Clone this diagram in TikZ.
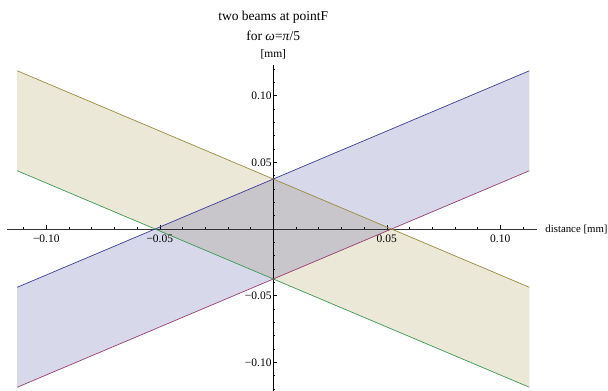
\documentclass[tikz,border=0pt]{standalone}
\usepackage{fontspec}
\setmainfont{Liberation Serif}
\definecolor{cBl}{rgb}{0.24,0.24,0.6}
\definecolor{cMg}{rgb}{0.6,0.24,0.4428}
\definecolor{cOl}{rgb}{0.6,0.547,0.24}
\definecolor{cGr}{rgb}{0.24,0.6,0.33}
\tikzset{
  beam/.style={line width=.7pt},
  band/.style={fill opacity=.2},
  axisline/.style={line width=.8pt,black!80},
  tickmark/.style={line width=.5pt,black},
  ticklab/.style={font=\fontsize{11.5}{13}\selectfont,inner sep=0pt},
  titlelab/.style={font=\fontsize{13.5}{16}\selectfont,inner sep=0pt},
}

\begin{document}
\begin{tikzpicture}[x=2270pt,y=1333pt]
  \useasboundingbox (-0.120396,-0.12078) rectangle (0.147445,0.171793);
  \clip (-0.120396,-0.12078) rectangle (0.147445,0.171793);
  \coordinate (bl) at (-0.1128,-0.0437); \coordinate (br) at (0.1128,0.1187);
  \coordinate (ml) at (-0.1128,-0.1187); \coordinate (mr) at (0.1128,0.0437);
  \coordinate (ol) at (-0.1128,0.1187);  \coordinate (or) at (0.1128,-0.0437);
  \coordinate (gl) at (-0.1128,0.0437);  \coordinate (gr) at (0.1128,-0.1187);
  \fill[cOl,band] (ol) -- (or) -- (gr) -- (gl) -- cycle;
  \fill[cBl,band] (bl) -- (br) -- (mr) -- (ml) -- cycle;
  \coordinate (xa) at (-0.1173,0); \coordinate (xb) at (0.1163,0);
  \coordinate (ya) at (0,-0.13);   \coordinate (yb) at (0,0.123);
  \draw[axisline] (xa) -- (xb);
  \draw[axisline,black] (ya) -- (yb);
  \foreach \i in {-11,...,-1,1,2,...,11}{\draw[tickmark] (\i/100,0) -- ++(0,2pt);}
  \foreach \i in {-12,...,-1,1,2,...,12}{\draw[tickmark] (0,\i/100) -- ++(2pt,0);}
  \foreach \i/\t in {-10/−0.10,-5/−0.05,5/0.05,10/0.10}{
    \draw[tickmark] (\i/100,0) -- ++(0,4pt);
    \node[ticklab,anchor=base] (xt\i) at (\i/100,-0.0098) {\t};
    \draw[tickmark] (0,\i/100) -- ++(4pt,0);
    \node[ticklab,anchor=east,xshift=-1.5pt] (yt\i) at (0,\i/100) {\t};
  }
  \draw[cBl,beam] (bl) -- (br);
  \draw[cMg,beam] (ml) -- (mr);
  \draw[cOl,beam] (ol) -- (or);
  \draw[cGr,beam] (gl) -- (gr);
  \node[titlelab,anchor=base] (ttl) at (0,0.1563) {two beams at pointF};
  \node[titlelab,anchor=base] (sub) at (0,0.1413) {for \textit{ω}=\textit{π}/5};
  \node[ticklab,anchor=base] (yname) at (0,0.1288) {[mm]};
  \node[ticklab,anchor=west,font=\fontsize{10.8}{13}\selectfont] (xname) at (0.1198,0) {distance [mm]};
\end{tikzpicture}
\end{document}
